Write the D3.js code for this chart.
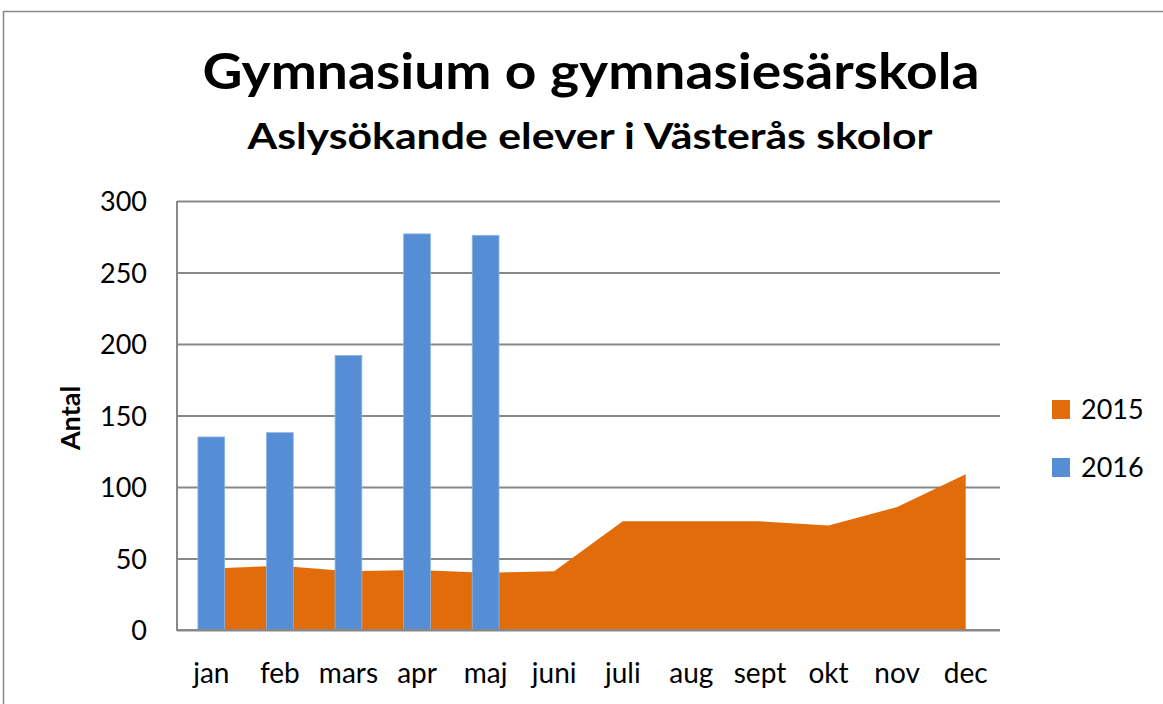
<!DOCTYPE html>
<meta charset="utf-8">
<style>
body { margin: 0; background: #fff; }
text { font-family: Lato, "Liberation Sans", sans-serif; fill: #000; }
</style>
<body>
<script src="https://cdn.jsdelivr.net/npm/d3@7"></script>
<script>
var months = ["jan", "feb", "mars", "apr", "maj", "juni", "juli", "aug", "sept", "okt", "nov", "dec"];
var values2015 = [43, 45, 41, 42, 40, 41, 76, 76, 76, 73, 86, 109];
var values2016 = [135, 138, 192, 277, 276];
var yTicks = [0, 50, 100, 150, 200, 250, 300];
var seriesNames = ["2015", "2016"];
var colors = ["#e36c0a", "#558ed5"];

var width = 1163,
    height = 704,
    plotLeft = 177, plotRight = 1000, plotTop = 201, plotBottom = 630;

var svg = d3.select("body").append("svg")
    .attr("width", width)
    .attr("height", height);

// chart frame (runs off the picture at right and bottom)
svg.append("rect")
    .attr("x", 3.5).attr("y", 11.5)
    .attr("width", 1300).attr("height", 900)
    .attr("fill", "#fff")
    .attr("stroke", "#888").attr("stroke-width", 1.5);

var x = d3.scaleBand().domain(months).range([plotLeft, plotRight]).padding(0);
var y = d3.scaleLinear().domain([0, 300]).range([plotBottom, plotTop]);

// gridlines + y labels
var yAxis = svg.append("g")
    .attr("transform", "translate(" + plotLeft + ",0)")
    .call(d3.axisLeft(y).tickValues(yTicks).tickSize(-(plotRight - plotLeft)).tickPadding(30));
yAxis.select(".domain").remove();
yAxis.selectAll("line").attr("stroke", "#888").attr("stroke-width", 2);
yAxis.selectAll("text")
    .attr("font-size", 27)
    .attr("dy", "0.36em")
    .style("font-family", "Lato, sans-serif");

// 2015 area
var area = d3.area()
    .x(function(d, i) { return x(months[i]) + x.bandwidth() / 2; })
    .y0(y(0))
    .y1(function(d) { return y(d); });

svg.append("path")
    .datum(values2015)
    .attr("d", area)
    .attr("fill", colors[0]);

// 2016 bars
var barW = x.bandwidth() * 0.39;
svg.selectAll(".bar")
    .data(values2016)
  .enter().append("rect")
    .attr("class", "bar")
    .attr("x", function(d, i) { return x(months[i]) + x.bandwidth() / 2 - barW / 2; })
    .attr("y", function(d) { return y(d); })
    .attr("width", barW)
    .attr("height", function(d) { return y(0) - y(d); })
    .attr("fill", colors[1])
    .attr("stroke", "#8fb3e3")
    .attr("stroke-width", 0.8);

// axis lines
svg.append("line")
    .attr("x1", plotLeft).attr("x2", plotLeft).attr("y1", plotTop).attr("y2", plotBottom + 1)
    .attr("stroke", "#888").attr("stroke-width", 2);
svg.append("line")
    .attr("x1", plotLeft).attr("x2", plotRight).attr("y1", plotBottom).attr("y2", plotBottom)
    .attr("stroke", "#888").attr("stroke-width", 2);

// x labels
var xAxis = svg.append("g")
    .attr("transform", "translate(0," + plotBottom + ")")
    .call(d3.axisBottom(x).tickSize(0).tickPadding(33));
xAxis.select(".domain").remove();
xAxis.selectAll("text")
    .attr("font-size", 28)
    .attr("dy", "0.71em")
    .style("font-family", "Lato, sans-serif");

// titles
svg.append("text")
    .attr("x", 591).attr("y", 89)
    .attr("text-anchor", "middle")
    .attr("font-size", 50).attr("font-weight", "bold")
    .attr("textLength", 777).attr("lengthAdjust", "spacingAndGlyphs")
    .text("Gymnasium o gymnasiesärskola");
svg.append("text")
    .attr("x", 590).attr("y", 149)
    .attr("text-anchor", "middle")
    .attr("font-size", 37).attr("font-weight", "bold")
    .attr("textLength", 685).attr("lengthAdjust", "spacingAndGlyphs")
    .text("Aslysökande elever i Västerås skolor");

// y axis title
svg.append("text")
    .attr("transform", "translate(80,418) rotate(-90)")
    .attr("text-anchor", "middle")
    .attr("font-size", 27).attr("font-weight", "bold")
    .text("Antal");

// legend
var legend = svg.selectAll(".legend")
    .data(seriesNames)
  .enter().append("g")
    .attr("class", "legend")
    .attr("transform", function(d, i) { return "translate(1052," + (400 + i * 58) + ")"; });
legend.append("rect")
    .attr("width", 18).attr("height", 19)
    .attr("fill", function(d, i) { return colors[i]; });
legend.append("text")
    .attr("x", 29).attr("y", 19)
    .attr("font-size", 27)
    .text(function(d) { return d; });
</script>
</body>
